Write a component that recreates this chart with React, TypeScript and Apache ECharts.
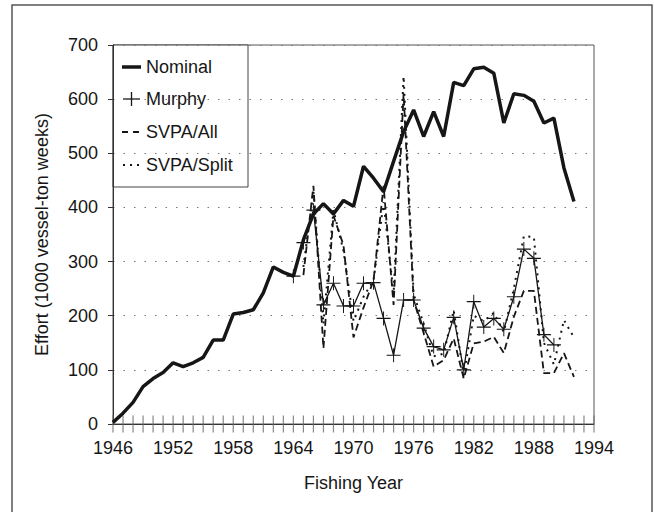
import React, { useEffect, useRef } from "react";
import * as echarts from "echarts";

const baseYear = 1946;
const endYear = 1994;
const xTickLabels = ["1946", "1952", "1958", "1964", "1970", "1976", "1982", "1988", "1994"];

const nominalStart = 1946;
const nominal = [3, 20, 40, 69, 84, 95, 113, 106, 113, 123, 155, 155, 203, 206, 211, 242, 290, 280, 273, 340, 388, 407, 388, 413, 402, 476, 454, 429, 485, 540, 580, 531, 577, 531, 631, 625, 656, 659, 648, 556, 610, 607, 596, 556, 565, 473, 411];

const murphyStart = 1964;
const murphy = [273, 335, 395, 220, 260, 218, 218, 260, 261, 195, 127, 229, 229, 177, 143, 137, 197, 100, 226, 179, 195, 175, 235, 323, 306, 165, 146];

const svpaAllStart = 1965;
const svpaAll = [275, 440, 140, 385, 330, 160, 215, 265, 440, 220, 610, 229, 168, 106, 118, 158, 84, 149, 152, 161, 131, 198, 246, 246, 94, 94, 131, 87];

const svpaSplitStart = 1965;
const svpaSplit = [290, 430, 185, 395, 320, 190, 235, 265, 410, 240, 642, 240, 185, 125, 130, 210, 90, 200, 190, 205, 170, 250, 347, 345, 150, 110, 192, 160];

const yTicks = [0, 100, 200, 300, 400, 500, 600, 700];

function pts(start: number, vals: number[]) {
  return vals.map((v, i) => [start - baseYear + i, v]);
}

const FONT = "Liberation Sans, Arial, sans-serif";
const INK = "#161616";

export default function App() {
  const ref = useRef<HTMLDivElement>(null);
  useEffect(() => {
    if (!ref.current) return;
    const chart = echarts.init(ref.current, undefined, { renderer: "svg" });
    const plusPath =
      "path://M-1,-0.07 L1,-0.07 L1,0.07 L-1,0.07 Z M-0.07,-0.85 L0.07,-0.85 L0.07,0.85 L-0.07,0.85 Z";
    const tickPath = "path://M-0.5,-1 L0.5,-1 L0.5,1 L-0.5,1 Z";
    const yearTicks: number[][] = [];
    for (let y = baseYear; y <= endYear; y++) yearTicks.push([y - baseYear, 0]);
    const legendY = [67, 99, 132, 165];
    chart.setOption({
      animation: false,
      backgroundColor: "#fff",
      grid: { left: 113, top: 45, right: 60, bottom: 88, show: true, borderColor: "#555", borderWidth: 1 },
      xAxis: {
        type: "value",
        min: 0,
        max: endYear - baseYear,
        interval: 6,
        name: "Fishing Year",
        nameLocation: "middle",
        nameGap: 50,
        nameTextStyle: { fontFamily: FONT, fontSize: 18, color: INK },
        axisLine: { show: true, lineStyle: { color: "#333", width: 1 } },
        axisTick: { show: false },
        axisLabel: {
          margin: 15,
          fontFamily: FONT,
          fontSize: 18,
          color: INK,
          formatter: (v: number) => xTickLabels[Math.round(v / 6)] ?? "",
        },
        splitLine: { show: false },
      },
      yAxis: {
        type: "value",
        min: 0,
        max: 700,
        interval: 100,
        name: "Effort (1000 vessel-ton weeks)",
        nameLocation: "middle",
        nameGap: 62,
        nameTextStyle: { fontFamily: FONT, fontSize: 18, color: INK },
        axisLine: { show: true, lineStyle: { color: "#333", width: 1 } },
        axisTick: { show: true, length: 5, lineStyle: { color: "#333" } },
        axisLabel: {
          margin: 15,
          fontFamily: FONT,
          fontSize: 18,
          color: INK,
          formatter: (v: number) => (yTicks.includes(v) ? String(v) : ""),
        },
        splitLine: { show: true, lineStyle: { color: "#777", type: [1.5, 9], width: 1 } },
      },
      series: [
        {
          name: "yearTicks",
          type: "scatter",
          data: yearTicks,
          symbol: tickPath,
          symbolSize: [1.2, 17],
          symbolKeepAspect: false,
          itemStyle: { color: "#6a6a6a" },
          clip: false,
          silent: true,
          z: 1,
        },
        {
          name: "Nominal",
          type: "line",
          data: pts(nominalStart, nominal),
          showSymbol: false,
          lineStyle: { color: INK, width: 3.5 },
          itemStyle: { color: INK },
          z: 5,
        },
        {
          name: "Murphy",
          type: "line",
          data: pts(murphyStart, murphy),
          symbol: plusPath,
          symbolSize: [14, 14],
          showSymbol: true,
          showAllSymbol: true,
          lineStyle: { color: INK, width: 1.3 },
          itemStyle: { color: INK },
          z: 4,
        },
        {
          name: "SVPA/All",
          type: "line",
          data: pts(svpaAllStart, svpaAll),
          showSymbol: false,
          lineStyle: { color: INK, width: 1.8, type: [7, 4] },
          itemStyle: { color: INK },
          z: 3,
        },
        {
          name: "SVPA/Split",
          type: "line",
          data: pts(svpaSplitStart, svpaSplit),
          showSymbol: false,
          lineStyle: { color: INK, width: 2, type: [2, 5] },
          itemStyle: { color: INK },
          z: 3,
        },
      ],
      graphic: [
        {
          type: "rect",
          shape: { x: 12, y: 5, width: 640, height: 540 },
          style: { fill: "none", stroke: "#555", lineWidth: 1.5 },
          silent: true,
          z: 1,
        },
        {
          type: "group",
          z: 10,
          children: [
            {
              type: "rect",
              shape: { x: 113, y: 45, width: 135, height: 142 },
              style: { fill: "#fff", stroke: "#444", lineWidth: 1 },
            },
            { type: "line", shape: { x1: 122, y1: legendY[0], x2: 141, y2: legendY[0] }, style: { stroke: INK, lineWidth: 3.5 } },
            { type: "line", shape: { x1: 123, y1: legendY[1], x2: 140, y2: legendY[1] }, style: { stroke: INK, lineWidth: 1.3 } },
            { type: "line", shape: { x1: 131.5, y1: legendY[1] - 7, x2: 131.5, y2: legendY[1] + 7 }, style: { stroke: INK, lineWidth: 1.3 } },
            { type: "line", shape: { x1: 122, y1: legendY[2], x2: 141, y2: legendY[2] }, style: { stroke: INK, lineWidth: 1.8, lineDash: [6, 5] } },
            { type: "line", shape: { x1: 123, y1: legendY[3], x2: 142, y2: legendY[3] }, style: { stroke: INK, lineWidth: 2, lineDash: [2, 5] } },
            ...["Nominal", "Murphy", "SVPA/All", "SVPA/Split"].map((t, i) => ({
              type: "text",
              x: 146,
              y: legendY[i],
              style: { text: t, fontFamily: FONT, fontSize: 18, fill: INK, verticalAlign: "middle", align: "left" },
            })),
          ],
        },
      ],
    });
    return () => chart.dispose();
  }, []);
  return <div ref={ref} style={{ width: 654, height: 512, position: "absolute", left: 0, top: 0 }} />;
}
